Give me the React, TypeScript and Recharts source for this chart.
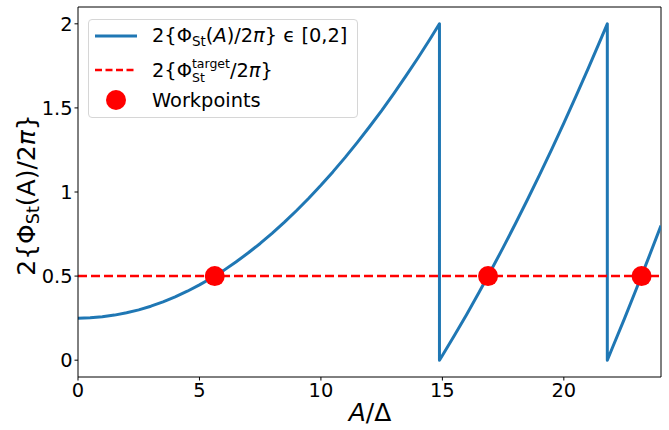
import React from "react";
import { ComposedChart, Line, XAxis, YAxis, ReferenceLine, ReferenceDot } from "recharts";

// values: 2{Φ_St(A)/2π}, wrapped into [0,2]
const phaseX = [
  0, 0.5, 1, 1.5, 2, 2.5, 3, 3.5, 4, 4.5, 5, 5.5, 6, 6.5, 7, 7.5, 8, 8.5, 9, 9.5, 10, 10.5, 11, 11.5, 12, 12.5,
  13, 13.5, 14, 14.5, 14.88, 14.88, 15, 15.5, 16, 16.5, 17, 17.5, 18, 18.5, 19, 19.5, 20, 20.5, 21, 21.5, 21.79,
  21.79, 22, 22.5, 23, 23.5, 24,
];
const phaseY = [
  0.25, 0.252, 0.258, 0.268, 0.282, 0.299, 0.321, 0.347, 0.376, 0.41, 0.448, 0.489, 0.534, 0.584, 0.637, 0.694,
  0.756, 0.821, 0.89, 0.963, 1.04, 1.121, 1.206, 1.295, 1.388, 1.484, 1.585, 1.69, 1.798, 1.911, 2.0, 0.0, 0.028,
  0.148, 0.272, 0.401, 0.533, 0.669, 0.81, 0.954, 1.102, 1.254, 1.41, 1.57, 1.734, 1.902, 2.0, 0.0, 0.074, 0.249,
  0.429, 0.613, 0.8,
];

const targetPhase = 0.5;
const workpointX = [5.63, 16.88, 23.2];

const xTicks = [0, 5, 10, 15, 20];
const yTicks = [0, 0.5, 1, 1.5, 2];

const curve = phaseX.map((x, i) => ({ x, y: phaseY[i] }));

const BLUE = "#1f77b4";
const RED = "#ff0000";
const FONT = "'DejaVu Sans', sans-serif";

const tickStyle = { fill: "#000", fontSize: 19.4, fontFamily: FONT };

function LegendBox() {
  const row: React.CSSProperties = {
    position: "absolute",
    left: 0,
    height: 30,
    display: "flex",
    alignItems: "center",
    width: "100%",
  };
  const label: React.CSSProperties = { position: "absolute", left: 63, whiteSpace: "nowrap", fontSize: 19.4 };
  return (
    <div
      style={{
        position: "absolute",
        left: 88,
        top: 19,
        width: 270,
        height: 99,
        boxSizing: "border-box",
        border: "1px solid #d6d6d6",
        borderRadius: 4,
        background: "rgba(255,255,255,0.8)",
        fontFamily: FONT,
        color: "#000",
      }}
    >
      <div style={{ ...row, top: 1 }}>
        <svg width={42} height={6} style={{ position: "absolute", left: 6 }}>
          <line x1={0} y1={3} x2={42} y2={3} stroke={BLUE} strokeWidth={3} />
        </svg>
        <span style={label}>
          2{"{"}Φ<sub style={{ fontSize: 13.5, verticalAlign: -4 }}>St</sub>(<i>A</i>)/2<i>π</i>{"}"} ϵ [0,2]
        </span>
      </div>
      <div style={{ ...row, top: 35 }}>
        <svg width={42} height={6} style={{ position: "absolute", left: 6 }}>
          <line x1={0} y1={3} x2={42} y2={3} stroke={RED} strokeWidth={2.5} strokeDasharray="7 3.5" />
        </svg>
        <span style={{ ...label, display: "flex", alignItems: "center" }}>
          2{"{"}Φ
          <span style={{ display: "inline-flex", flexDirection: "column", fontSize: 12.5, lineHeight: "14px", marginTop: 2 }}>
            <span>target</span>
            <span>St</span>
          </span>
          /2<i>π</i>{"}"}
        </span>
      </div>
      <div style={{ ...row, top: 65 }}>
        <svg width={22} height={22} style={{ position: "absolute", left: 16 }}>
          <circle cx={11} cy={11} r={10} fill={RED} />
        </svg>
        <span style={label}>Workpoints</span>
      </div>
    </div>
  );
}

export default function App() {
  return (
    <div style={{ position: "absolute", left: 0, top: 0, width: 669, height: 430, background: "#fff" }}>
      <ComposedChart width={669} height={430} margin={{ top: 7, right: 8, bottom: 0, left: 0 }}>
        <XAxis
          type="number"
          dataKey="x"
          domain={[0, 24]}
          ticks={xTicks}
          allowDataOverflow
          height={53}
          tickSize={3.5}
          tickMargin={3}
          axisLine={{ stroke: "#000", strokeWidth: 1 }}
          tickLine={{ stroke: "#000", strokeWidth: 1 }}
          tick={tickStyle}
        />
        <YAxis
          type="number"
          dataKey="y"
          domain={[-0.1, 2.1]}
          ticks={yTicks}
          allowDataOverflow
          width={78}
          tickSize={3.5}
          tickMargin={2}
          tickFormatter={(v: number) => String(v)}
          axisLine={{ stroke: "#000", strokeWidth: 1 }}
          tickLine={{ stroke: "#000", strokeWidth: 1 }}
          tick={tickStyle}
        />
        <ReferenceLine x={24} stroke="#000" strokeWidth={1} />
        <ReferenceLine y={2.1} stroke="#000" strokeWidth={1} />
        <Line
          data={curve}
          dataKey="y"
          type="linear"
          stroke={BLUE}
          strokeWidth={3}
          strokeLinejoin="round"
          dot={false}
          activeDot={false}
          isAnimationActive={false}
        />
        <ReferenceLine y={targetPhase} stroke={RED} strokeWidth={2.5} strokeDasharray="9 4" />
        {workpointX.map((x) => (
          <ReferenceDot key={x} x={x} y={targetPhase} r={10} fill={RED} stroke="none" />
        ))}
      </ComposedChart>
      <svg width={669} height={430} style={{ position: "absolute", left: 0, top: 0, pointerEvents: "none" }}>
        <text x={370} y={421} textAnchor="middle" fontSize={25} fontFamily={FONT} fill="#000">
          <tspan fontStyle="italic">A</tspan>/Δ
        </text>
        <text
          x={35}
          y={195}
          textAnchor="middle"
          fontSize={25}
          fontFamily={FONT}
          fill="#000"
          transform="rotate(-90, 35, 195)"
        >
          2{"{"}Φ<tspan fontSize={17.5} dy={4}>St</tspan>
          <tspan dy={-4}>(A)/2</tspan>
          <tspan fontStyle="italic">π</tspan>
          {"}"}
        </text>
      </svg>
      <LegendBox />
    </div>
  );
}
